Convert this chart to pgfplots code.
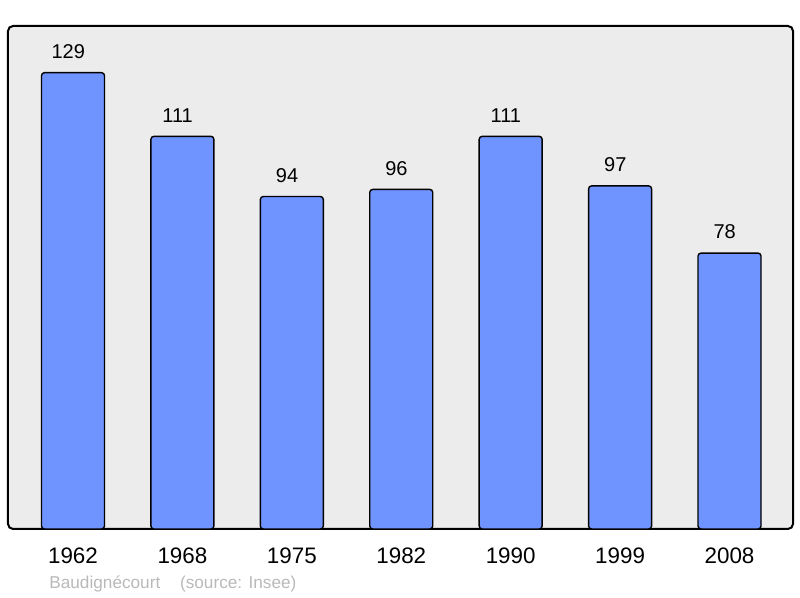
\documentclass[border=0pt]{standalone}
\usepackage{pgfplots}
\pgfplotsset{compat=1.18}
\usepackage{fontspec}
\setmainfont{Liberation Sans}
\definecolor{barblue}{RGB}{112,148,255}
\definecolor{bggray}{RGB}{236,236,236}
\definecolor{srcgray}{RGB}{185,185,185}
\begin{document}
\begin{tikzpicture}
\path[use as bounding box] (0,0) rectangle (400pt,299pt);
\begin{axis}[
  at={(4pt,34.5pt)}, anchor=south west,
  scale only axis,
  width=392.5pt, height=251.5pt,
  xmin=-0.594, xmax=6.580,
  ymin=0, ymax=142.2,
  /pgf/number format/assume math mode=true,
  axis line style={draw=none},
  axis background/.style={fill=bggray, draw=black, line width=1pt, rounded corners=2.5pt},
  xtick={0,1,2,3,4,5,6},
  xticklabels={1962,1968,1975,1982,1990,1999,2008},
  ytick=\empty,
  major tick length=0pt,
  xticklabel style={anchor=center, yshift=-13.5pt, font=\fontsize{11.2}{13}\selectfont},
  clip=false,
]
\addplot[ybar, bar width=31.5pt, fill=barblue, draw=black, line width=0.7pt, rounded corners=1.5pt,
  nodes near coords, nodes near coords style={anchor=center, yshift=10.5pt, xshift=-2.4pt, font=\fontsize{10}{11}\selectfont, text=black}]
  coordinates {(0,129) (1,111) (2,94) (3,96) (4,111) (5,97) (6,78)};
\end{axis}
\node[anchor=west, inner sep=0pt, text=srcgray, font=\fontsize{8.6}{10}\selectfont] at (24.5pt,7pt) {Baudignécourt\hspace{1.15em}(source: Insee)};
\end{tikzpicture}
\end{document}
